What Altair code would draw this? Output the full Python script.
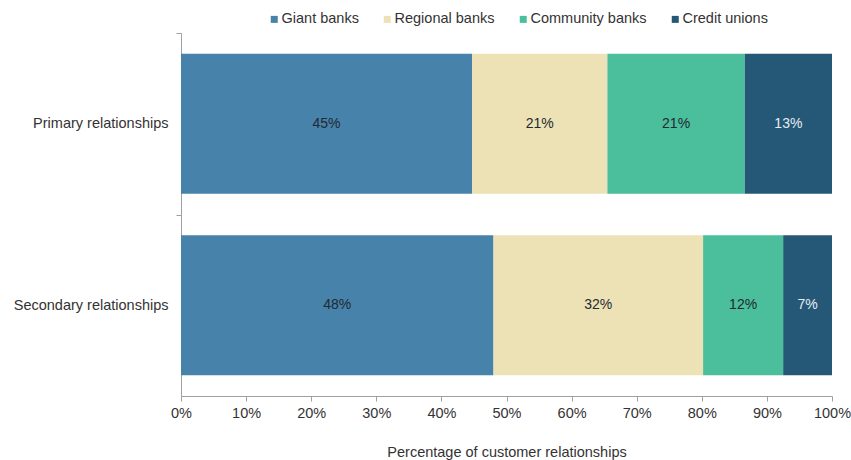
import altair as alt
import pandas as pd

relationships = ["Primary relationships", "Secondary relationships"]
institutions = ["Giant banks", "Regional banks", "Community banks", "Credit unions"]
colors = ["#4682A9", "#EDE2B5", "#4BBE9C", "#255777"]
primary_values = [44.7, 20.8, 21.1, 13.4]
secondary_values = [48.0, 32.2, 12.3, 7.5]
primary_labels = ["45%", "21%", "21%", "13%"]
secondary_labels = ["48%", "32%", "12%", "7%"]
x_ticks = [0, 0.1, 0.2, 0.3, 0.4, 0.5, 0.6, 0.7, 0.8, 0.9, 1.0]

rows = []
for rel, vals, labs in [(relationships[0], primary_values, primary_labels),
                        (relationships[1], secondary_values, secondary_labels)]:
    for i, (inst, v, lab) in enumerate(zip(institutions, vals, labs)):
        rows.append({"rel": rel, "inst": inst, "order": i, "value": v, "label": lab})
df = pd.DataFrame(rows)

FONT = "Liberation Sans"
FS = 14.5

base = alt.Chart(df).transform_stack(
    stack="value", groupby=["rel"], as_=["x0", "x1"], offset="normalize",
    sort=[alt.SortField("order", order="ascending")]
).transform_calculate(mid="(datum.x0 + datum.x1) / 2")

y_enc = alt.Y(
    "rel:N", sort=relationships, title=None,
    scale=alt.Scale(paddingInner=0.23, paddingOuter=0.115),
    axis=alt.Axis(
        labelFont=FONT, labelFontSize=FS, labelColor="#333333", labelLimit=400,
        tickOffset=-90.75, labelOffset=90.75, tickSize=5, tickColor="#a0a0a0",
        domainColor="#a0a0a0", labelPadding=8,
    ),
)

bars = base.mark_bar().encode(
    x=alt.X(
        "x0:Q", title="Percentage of customer relationships",
        scale=alt.Scale(domain=[0, 1], nice=False),
        axis=alt.Axis(
            values=x_ticks, format=".0%", labelFont=FONT, labelFontSize=FS,
            labelColor="#333333", titleFont=FONT, titleFontSize=FS,
            titleFontWeight="normal", titleColor="#333333", titlePadding=26,
            grid=False, tickSize=5, tickColor="#a0a0a0", domainColor="#a0a0a0",
            labelFlush=False, labelPadding=5,
        ),
    ),
    x2="x1:Q",
    y=y_enc,
    color=alt.Color(
        "inst:N", sort=institutions,
        scale=alt.Scale(domain=institutions, range=colors),
        legend=alt.Legend(
            title=None, orient="none", direction="horizontal", columns=4,
            legendX=86, legendY=-21, symbolType="square", symbolSize=49,
            symbolStrokeWidth=0, labelFont=FONT, labelFontSize=FS,
            labelColor="#333333", columnPadding=21, labelOffset=0, padding=0,
            labelLimit=300,
        ),
    ),
    order=alt.Order("order:Q"),
)

texts = base.mark_text(font=FONT, fontSize=14).encode(
    x="mid:Q",
    y=alt.Y("rel:N", sort=relationships),
    text="label:N",
    color=alt.condition(
        alt.datum.inst == "Credit unions", alt.value("#e6edf2"), alt.value("#1f2a33")
    ),
)

chart = alt.layer(bars, texts).properties(
    width=651, height=363,
    autosize=alt.AutoSizeParams(type="none"),
    padding={"left": 181, "top": 33, "right": 19, "bottom": 64},
).configure_view(stroke=None)

chart.save("out.html", embed_options={"renderer": "svg", "actions": False})
